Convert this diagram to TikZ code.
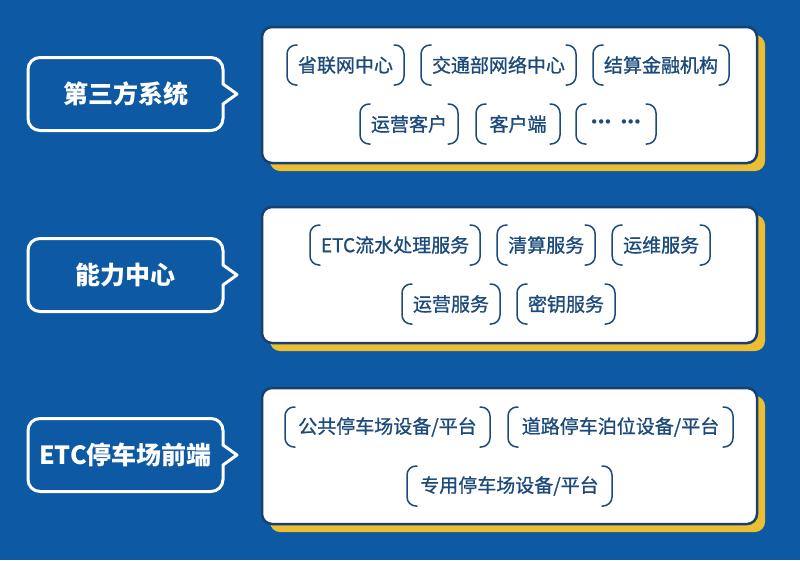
\documentclass[tikz,border=0pt]{standalone}
\usepackage{fontspec}
\setmainfont{Noto Sans CJK SC}
\newfontfamily\pillfont{Noto Sans CJK SC}[FakeBold=0.9]
\newfontfamily\dotfont{DejaVu Sans}
\usetikzlibrary{positioning,shadows}
\definecolor{bgblue}{RGB}{13,89,163}
\definecolor{panelline}{RGB}{22,64,112}
\definecolor{shadowyellow}{RGB}{238,190,50}
\definecolor{pilltext}{RGB}{28,74,122}
\newcommand{\dotgroup}{•\kern-2pt•\kern-2pt•}

\begin{document}
\begin{tikzpicture}[x=1pt, y=-1pt,
      sysbox/.style={draw=white, line width=3pt, rounded corners=12pt, outer sep=0pt,
                     minimum width=195pt, minimum height=73pt, text=white,
                     font=\fontsize{25}{30}\selectfont\bfseries},
      panel/.style={fill=white, draw=panelline, line width=2.5pt, rounded corners=10pt,
                    minimum width=495pt, minimum height=136pt,
                    drop shadow={shadow xshift=8pt, shadow yshift=-8pt, opacity=1,
                                 fill=shadowyellow}},
      pill/.style={minimum height=40pt, inner xsep=11pt, outer sep=0pt, text=pilltext,
                   font=\fontsize{19}{22}\pillfont},
      bracket/.style={draw=pilltext, line width=1.5pt, rounded corners=9pt, line cap=round},
      notch/.style={draw=white, line width=3pt, line join=round}
    ]
    \fill[bgblue] (0,0) rectangle (800,560);

    % white panels with yellow shadow
    \node[panel] (p1) at (509.5,95) {};
    \node[panel] (p2) at (509.5,275) {};
    \node[panel] (p3) at (509.5,456) {};

    % left labels
    \node[sysbox] (s1) at (125.5,94) {第三方系统};
    \node[sysbox] (s2) at (125.5,275) {能力中心};
    \node[sysbox] (s3) at (125.5,455) {ETC停车场前端};

    \foreach \s in {s1,s2,s3}{
      \draw[bgblue, line width=4pt] ([yshift=9pt]\s.east) -- ([yshift=-9pt]\s.east);
      \draw[notch] ([yshift=10pt]\s.east) -- ([xshift=14pt]\s.east) -- ([yshift=-10pt]\s.east);
    }

    % third party systems
    \node[pill, anchor=west] (a1) at (287,65) {省联网中心};
    \node[pill, right=17pt of a1] (a2) {交通部网络中心};
    \node[pill, right=17pt of a2] (a3) {结算金融机构};
    \node[pill, anchor=west] (a4) at (360,124) {运营客户};
    \node[pill, right=18pt of a4, minimum width=84pt] (a5) {客户端};
    \node[pill, right=16pt of a5, minimum width=80pt, font=\fontsize{15}{18}\dotfont] (a6)
         {\dotgroup\hspace{7pt}\dotgroup};

    % capability center
    \node[pill, anchor=west] (b1) at (310,245) {ETC流水处理服务};
    \node[pill, right=17pt of b1] (b2) {清算服务};
    \node[pill, right=17pt of b2] (b3) {运维服务};
    \node[pill, anchor=west] (b4) at (402,304) {运营服务};
    \node[pill, right=17pt of b4] (b5) {密钥服务};

    % parking front end
    \node[pill, anchor=west, minimum width=205pt] (c1) at (285,427) {公共停车场设备/平台};
    \node[pill, right=18pt of c1, minimum width=225pt] (c2) {道路停车泊位设备/平台};
    \node[pill, anchor=west, minimum width=205pt] (c3) at (407,486) {专用停车场设备/平台};

    \foreach \p in {a1,a2,a3,a4,a5,a6,b1,b2,b3,b4,b5,c1,c2,c3}{
      \draw[bracket] ([xshift=10pt]\p.north west) -- (\p.north west)
                     -- (\p.south west) -- ([xshift=10pt]\p.south west);
      \draw[bracket] ([xshift=-10pt]\p.north east) -- (\p.north east)
                     -- (\p.south east) -- ([xshift=-10pt]\p.south east);
    }
  \end{tikzpicture}
\end{document}
